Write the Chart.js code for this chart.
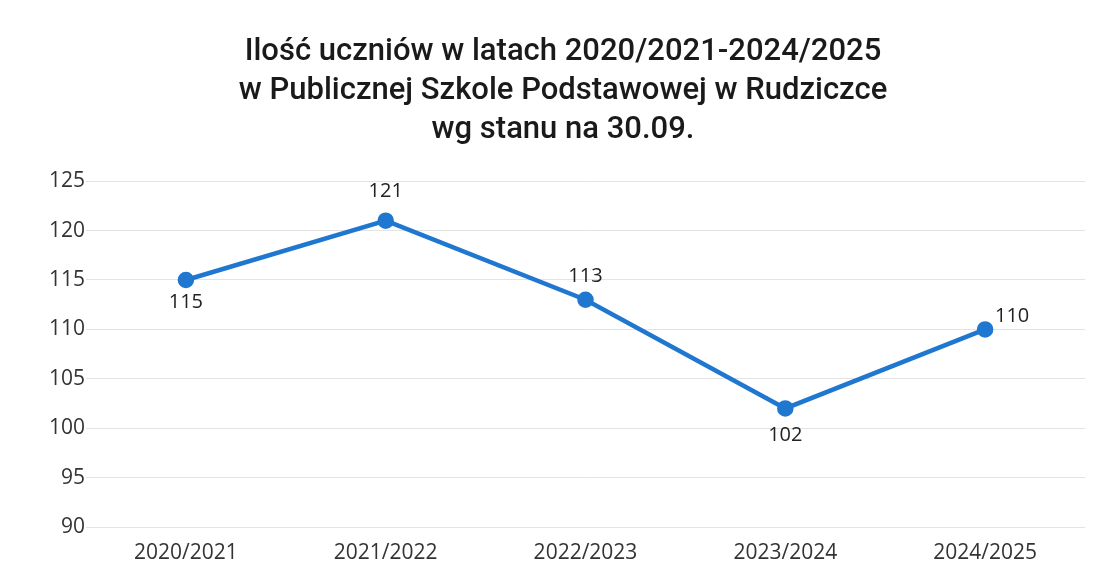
<!DOCTYPE html>
<html>
<head>
<meta charset="utf-8">
<script src="https://cdn.jsdelivr.net/npm/chart.js@4"></script>
<style>
    html, body { margin: 0; padding: 0; background: #fff; }
    #wrap { width: 1099px; height: 582px; position: relative; }
</style>
</head>
<body>
<div id="wrap"><canvas id="studentsChart"></canvas></div>
<script>
const years = ['2020/2021', '2021/2022', '2022/2023', '2023/2024', '2024/2025'];
const students = [115, 121, 113, 102, 110];
// where each value label sits relative to its point: [dx, dy]
const labelOffsets = [[0, 22], [0, -29], [0, -23], [0, 27], [27, -13]];
const titleLines = [
    'Ilość uczniów w latach 2020/2021-2024/2025',
    'w Publicznej Szkole Podstawowej w Rudziczce',
    'wg stanu na 30.09.'
];

const lineColor = '#1f77d0';
const tickFont = '"Open Sans", "DejaVu Sans", sans-serif';

// simple value labels, no datalabels plugin available
const valueLabels = {
    id: 'valueLabels',
    afterDatasetsDraw(chart) {
        const ctx = chart.ctx;
        const meta = chart.getDatasetMeta(0);
        ctx.save();
        ctx.font = '20px ' + tickFont;
        ctx.fillStyle = '#222';
        ctx.textAlign = 'center';
        ctx.textBaseline = 'middle';
        meta.data.forEach((pt, i) => {
            const [dx, dy] = labelOffsets[i];
            ctx.fillText(String(students[i]), pt.x + dx, pt.y + dy);
        });
        ctx.restore();
    }
};

const ctx = document.getElementById('studentsChart').getContext('2d');
new Chart(ctx, {
    type: 'line',
    data: {
        labels: years,
        datasets: [{
            label: 'Ilość uczniów',
            data: students,
            borderColor: lineColor,
            backgroundColor: lineColor,
            borderWidth: 4.5,
            pointRadius: 6,
            pointBackgroundColor: lineColor,
            pointBorderColor: lineColor,
            tension: 0,
            fill: false
        }]
    },
    options: {
        responsive: true,
        maintainAspectRatio: false,
        animation: false,
        // left padding keeps the title centred like the original
        layout: { padding: { top: 0, right: 14, bottom: 0, left: 41 } },
        plugins: {
            legend: { display: false },
            tooltip: { enabled: false },
            title: {
                display: true,
                text: titleLines,
                color: '#1a1a1a',
                font: { family: 'Roboto, "Noto Sans", sans-serif', size: 31, weight: '500', lineHeight: 1.26 },
                padding: { top: 33, bottom: 31 }
            }
        },
        scales: {
            x: {
                offset: true,
                grid: { display: false, drawTicks: false },
                border: { display: false },
                ticks: {
                    color: '#333',
                    padding: 13,
                    font: { family: tickFont, size: 21 }
                },
                afterFit(scale) { scale.height = 55; }
            },
            y: {
                min: 90,
                max: 125,
                grid: { color: '#e3e3e3', lineWidth: 1, drawTicks: false },
                border: { display: false },
                ticks: {
                    stepSize: 5,
                    color: '#333',
                    padding: 1,
                    font: { family: tickFont, size: 21 }
                },
                afterFit(scale) { scale.width = 45; }
            }
        }
    },
    plugins: [valueLabels]
});
</script>
</body>
</html>
